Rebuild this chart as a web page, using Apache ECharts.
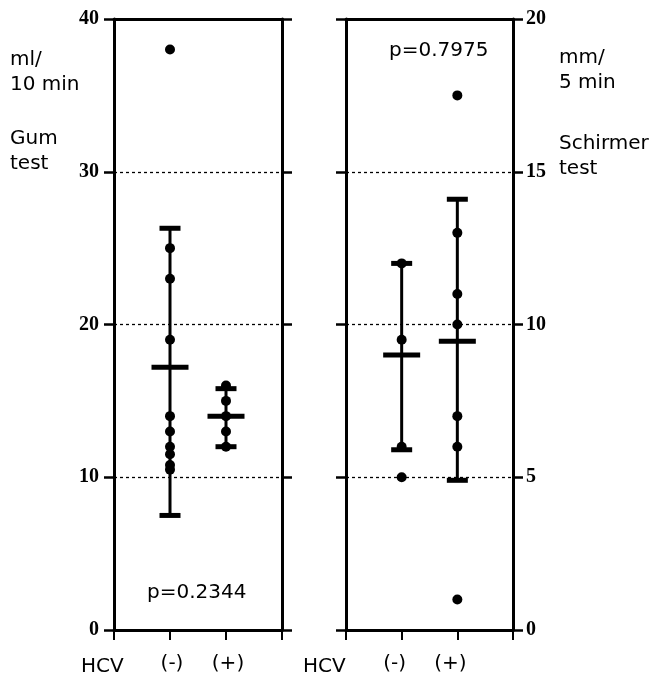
<!DOCTYPE html>
<html>
<head>
<meta charset="utf-8">
<script src="https://cdn.jsdelivr.net/npm/echarts@6/dist/echarts.min.js"></script>
<style>html,body{margin:0;padding:0;background:#fff;}#c{width:663px;height:676px;}</style>
</head>
<body>
<div id="c"></div>
<script>
// ---- data ----
const groups = ['(-)', '(+)'];          // HCV groups, placed at x = 1 and 2
const gumNeg = [38, 25, 23, 19, 14, 13, 12, 11.5, 10.8, 10.5];
const gumPos = [16, 15, 14, 13, 12];
const gumMean = [17.2, 14.0];
const gumLow = [7.5, 12.0];
const gumHigh = [26.3, 15.8];
const schNeg = [12, 9.5, 6, 5];
const schPos = [17.5, 13, 11, 10, 7, 6, 1];
const schMean = [9.0, 9.45];
const schLow = [5.9, 4.9];
const schHigh = [12.0, 14.1];
const gumTicks = [0, 10, 20, 30, 40];
const schTicks = [0, 5, 10, 15, 20];

const SANS = 'DejaVu Sans';
const SERIF = 'Liberation Serif';

const chart = echarts.init(document.getElementById('c'));

function xAx(grid, pos, show, pad) {
  return {
    type: 'value', gridIndex: grid, position: pos, min: 0, max: groups.length + 1, interval: 1,
    axisLine: {show: true, onZero: false, lineStyle: {color: '#000', width: 3}},
    axisTick: {show: show, inside: false, length: 10, lineStyle: {color: '#000', width: 2}},
    axisLabel: {show: show, margin: 24, color: '#000',
      formatter: v => (v >= 1 && v <= groups.length) ? '{g|' + groups[v - 1] + '}' : '',
      rich: {g: {fontFamily: SANS, fontSize: 20, color: '#000', padding: pad}}},
    splitLine: {show: false}
  };
}
function yAx(grid, pos, max, interval, labels, split, margin) {
  return {
    type: 'value', gridIndex: grid, position: pos, min: 0, max: max, interval: interval,
    axisLine: {show: true, onZero: false, lineStyle: {color: '#000', width: 3}},
    axisTick: {show: true, inside: false, length: 10, lineStyle: {color: '#000', width: 2.5}},
    axisLabel: {show: labels, margin: margin, color: '#000',
      formatter: v => '{t|' + v + '}',
      rich: {t: {fontFamily: SERIF, fontWeight: 'bold', fontSize: 20, color: '#000'}}},
    splitLine: {show: split, lineStyle: {color: '#000', width: 1.3, type: [3, 3]}}
  };
}

function errBar(xIdx, yIdx, mean, low, high) {
  return {
    type: 'custom', xAxisIndex: xIdx, yAxisIndex: yIdx, z: 3,
    data: mean.map((m, i) => [i + 1, m, low[i], high[i]]),
    renderItem: function (params, api) {
      const x = api.value(0);
      const pm = api.coord([x, api.value(1)]);
      const pl = api.coord([x, api.value(2)]);
      const ph = api.coord([x, api.value(3)]);
      const cap = 10.5, mw = 18.5;
      const thick = {stroke: '#000', lineWidth: 5};
      return {type: 'group', children: [
        {type: 'line', shape: {x1: pm[0], y1: pl[1], x2: pm[0], y2: ph[1]}, style: {stroke: '#000', lineWidth: 3}},
        {type: 'line', shape: {x1: pm[0] - cap, y1: pl[1], x2: pm[0] + cap, y2: pl[1]}, style: thick},
        {type: 'line', shape: {x1: pm[0] - cap, y1: ph[1], x2: pm[0] + cap, y2: ph[1]}, style: thick},
        {type: 'line', shape: {x1: pm[0] - mw, y1: pm[1], x2: pm[0] + mw, y2: pm[1]}, style: thick}
      ]};
    }
  };
}
function dots(xIdx, yIdx, vals, g) {
  return {type: 'scatter', xAxisIndex: xIdx, yAxisIndex: yIdx, z: 4, symbol: 'circle', symbolSize: 10,
    itemStyle: {color: '#000', opacity: 1}, silent: true, data: vals.map(v => [g, v])};
}

const txt = {fontFamily: SANS, fontSize: 20, fill: '#000', lineHeight: 25};

chart.setOption({
  animation: false,
  backgroundColor: '#fff',
  grid: [
    {left: 114, top: 19, width: 168, height: 611},
    {left: 346, top: 19, width: 167, height: 611}
  ],
  xAxis: [
    xAx(0, 'bottom', true, [0, 0, 0, 4]), xAx(0, 'top', false, 0),
    xAx(1, 'bottom', true, [0, 14, 0, 0]), xAx(1, 'top', false, 0)
  ],
  yAxis: [
    yAx(0, 'left', gumTicks[gumTicks.length - 1], gumTicks[1] - gumTicks[0], true, true, 15),
    yAx(0, 'right', gumTicks[gumTicks.length - 1], gumTicks[1] - gumTicks[0], false, false, 15),
    yAx(1, 'left', schTicks[schTicks.length - 1], schTicks[1] - schTicks[0], false, true, 15),
    yAx(1, 'right', schTicks[schTicks.length - 1], schTicks[1] - schTicks[0], true, false, 13)
  ],
  series: [
    errBar(0, 0, gumMean, gumLow, gumHigh),
    dots(0, 0, gumNeg, 1), dots(0, 0, gumPos, 2),
    errBar(2, 2, schMean, schLow, schHigh),
    dots(2, 2, schNeg, 1), dots(2, 2, schPos, 2)
  ],
  graphic: [
    {type: 'text', left: 10, top: 47, style: Object.assign({text: 'ml/\n10 min'}, txt)},
    {type: 'text', left: 10, top: 126, style: Object.assign({text: 'Gum\ntest'}, txt)},
    {type: 'text', left: 559, top: 45, style: Object.assign({text: 'mm/\n5 min'}, txt)},
    {type: 'text', left: 559, top: 131, style: Object.assign({text: 'Schirmer\ntest'}, txt)},
    {type: 'text', left: 147, top: 580, style: Object.assign({text: 'p=0.2344'}, txt)},
    {type: 'text', left: 389, top: 38, style: Object.assign({text: 'p=0.7975'}, txt)},
    {type: 'text', left: 81, top: 654, style: Object.assign({text: 'HCV'}, txt)},
    {type: 'text', left: 303, top: 654, style: Object.assign({text: 'HCV'}, txt)}
  ]
});
</script>
</body>
</html>
